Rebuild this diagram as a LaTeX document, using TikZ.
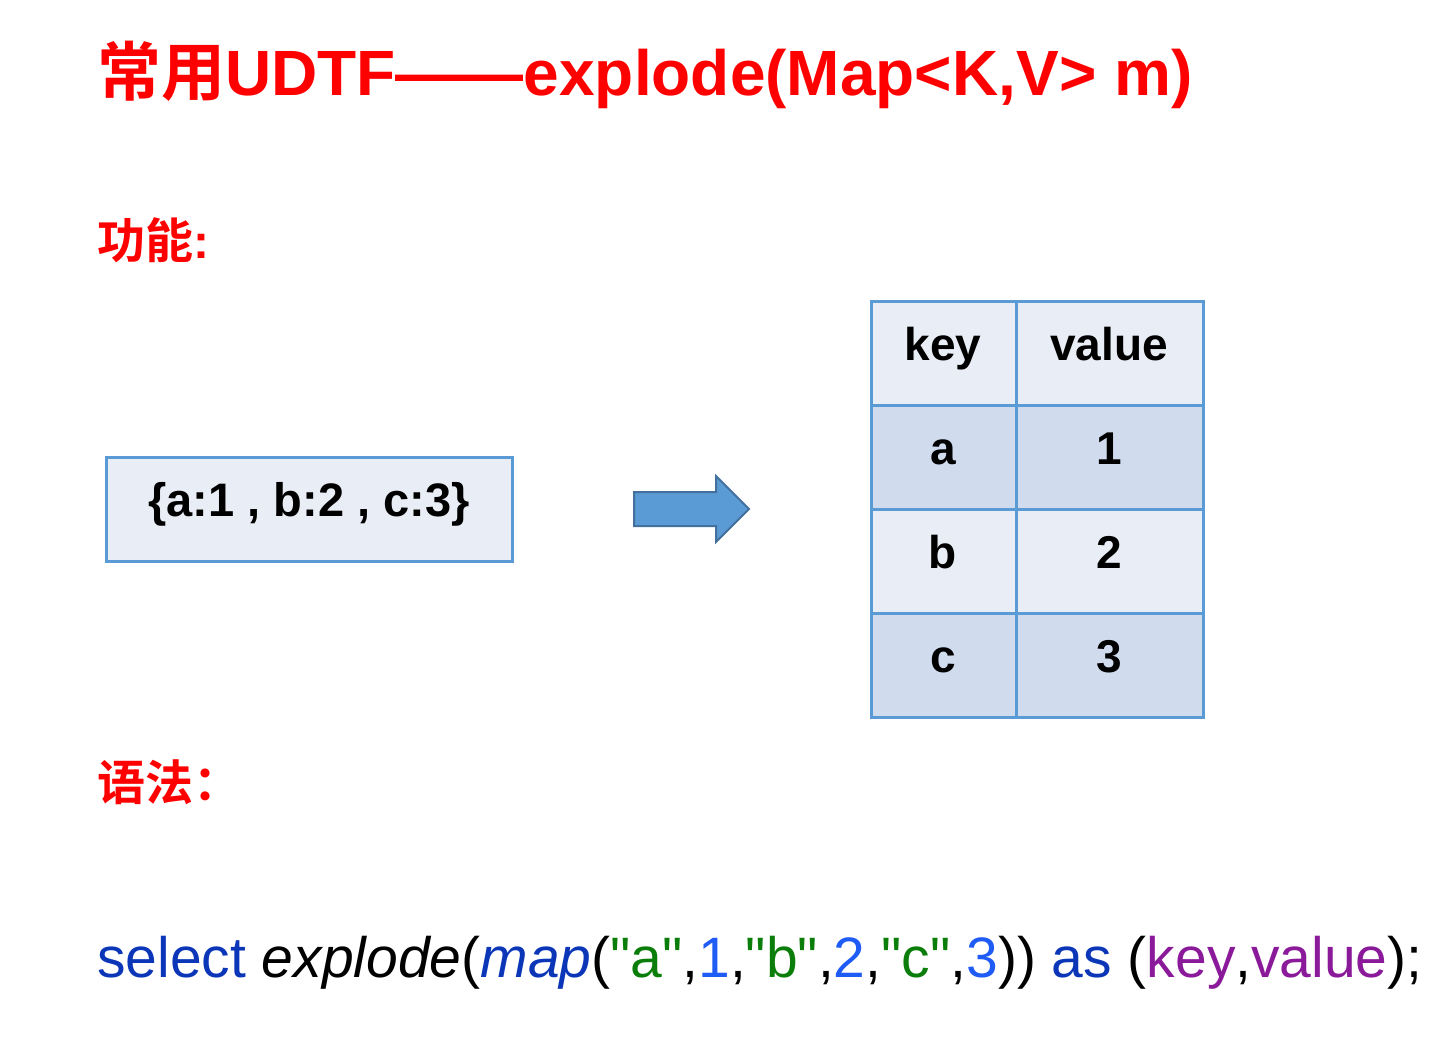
\documentclass[tikz,border=0pt]{standalone}
\usepackage{fontspec}
\setmainfont{Liberation Sans}
\newfontfamily\codefont{Liberation Sans}[Ligatures=TeXOff]
\newfontfamily\cjk{Noto Sans CJK SC}[BoldFont={Noto Sans CJK SC Bold}]
\begin{document}
\begin{tikzpicture}[x=1pt,y=-1pt,
  txt/.style={inner sep=0pt,anchor=base west},
  cell/.style={draw=cellline,line width=3pt},
  ctext/.style={inner sep=0pt,anchor=base,font=\fontsize{46}{50}\selectfont\bfseries}]
\definecolor{titlered}{HTML}{FF0000}
\definecolor{cellline}{HTML}{5B9BD5}
\definecolor{lightfill}{HTML}{E9EDF5}
\definecolor{darkfill}{HTML}{D0DCEE}
\definecolor{arrowfill}{HTML}{5B9BD5}
\definecolor{arrowline}{HTML}{41719C}
\definecolor{kwblue}{HTML}{0B36B8}
\definecolor{numblue}{HTML}{1F5BF5}
\definecolor{strgreen}{HTML}{0A7D0A}
\definecolor{idpurple}{HTML}{8A1A99}
\useasboundingbox (0,0) rectangle (1445,1050);
% title
\node[txt,text=titlered,font=\fontsize{64}{70}\selectfont\bfseries] (title) at (97,95)
  {{\cjk 常用}UDTF——explode(Map<K,V> m)};
\node[txt,text=titlered,font=\fontsize{48}{52}\selectfont\bfseries] (func) at (97,258)
  {{\cjk 功能}:};
\node[txt,text=titlered,font=\fontsize{48}{52}\selectfont\bfseries] (syn) at (97,800)
  {{\cjk 语法：}};
% input box
\draw[cell,fill=lightfill] (106,457) rectangle (512,561);
\node[ctext,font=\fontsize{47}{50}\selectfont\bfseries] (input) at (309,516) {\{a:1 , b:2 , c:3\}};
% arrow
\draw[fill=arrowfill,draw=arrowline,line width=2pt,line join=miter]
  (634,492) -- (716,492) -- (716,476) -- (749,509) -- (716,542) -- (716,526) -- (634,526) -- cycle;
% table
\fill[lightfill] (871,301) rectangle (1203,405);
\fill[darkfill] (871,405) rectangle (1203,509);
\fill[lightfill] (871,509) rectangle (1203,613);
\fill[darkfill] (871,613) rectangle (1203,717);
\draw[cell] (871,301) rectangle (1203,717);
\foreach \y in {405,509,613} \draw[cell] (871,\y) -- (1203,\y);
\draw[cell] (1016,301) -- (1016,717);
\node[ctext] (hk) at (943,360) {key};
\node[ctext] (hv) at (1109,360) {value};
\node[ctext] (ka) at (943,464) {a};
\node[ctext] (v1) at (1109,464) {1};
\node[ctext] (kb) at (943,568) {b};
\node[ctext] (v2) at (1109,568) {2};
\node[ctext] (kc) at (943,672) {c};
\node[ctext] (v3) at (1109,672) {3};
% code
\node[txt,font=\codefont\fontsize{57}{62}\selectfont] (code) at (97,977)
  {\textcolor{kwblue}{select} \textit{explode}(\textcolor{kwblue}{\textit{map}}(\textcolor{strgreen}{"a"},\textcolor{numblue}{1},\textcolor{strgreen}{"b"},\textcolor{numblue}{2},\textcolor{strgreen}{"c"},\textcolor{numblue}{3})) \textcolor{kwblue}{as} (\textcolor{idpurple}{key},\textcolor{idpurple}{value});};
\end{tikzpicture}
\end{document}
